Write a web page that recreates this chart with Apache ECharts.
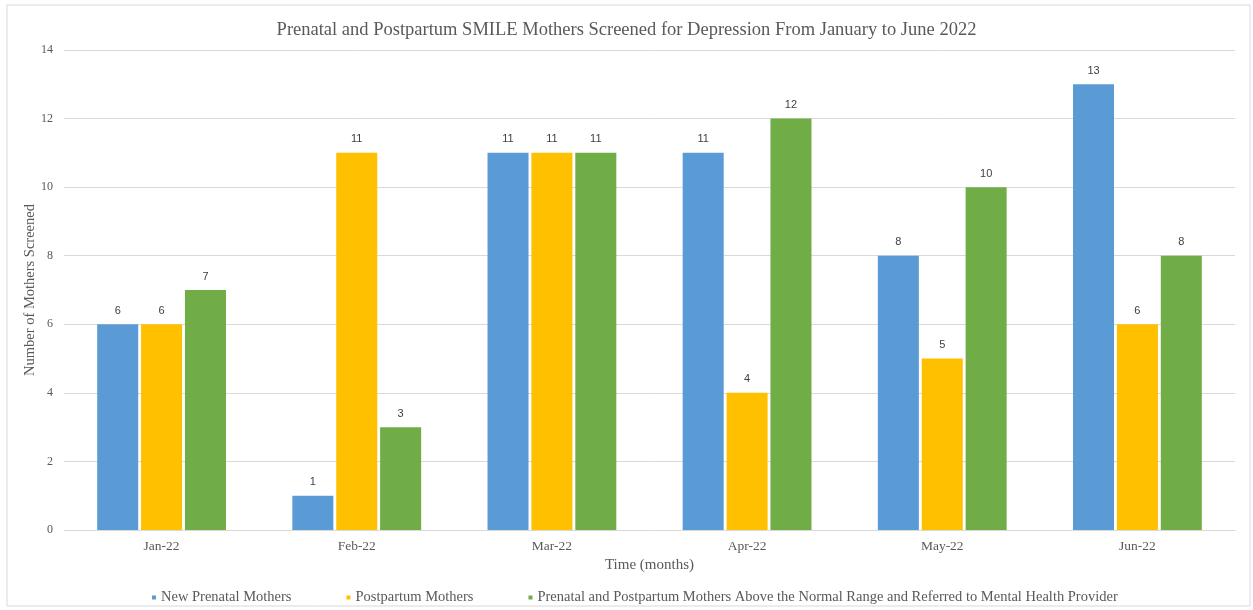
<!DOCTYPE html>
<html><head><meta charset="utf-8">
<script src="https://cdn.jsdelivr.net/npm/echarts@6/dist/echarts.min.js"></script>
<style>html,body{margin:0;padding:0;background:#fff}#c{width:1253px;height:610px}</style>
</head><body><div id="c"></div>
<script>
const categories = ['Jan-22','Feb-22','Mar-22','Apr-22','May-22','Jun-22'];
const seriesNames = ['New Prenatal Mothers','Postpartum Mothers','Prenatal and Postpartum Mothers Above the Normal Range and Referred to Mental Health Provider'];
const newPrenatal = [6,1,11,11,8,13];
const postpartum = [6,11,11,4,5,6];
const referred = [7,3,11,12,10,8];
const yAxisTitle = 'Number of Mothers Screened';
const colors = ['#5B9BD5','#FFC000','#70AD47'];
const serif = '"Liberation Serif","Times New Roman",serif';
const chart = echarts.init(document.getElementById('c'));
const mk = (name, data, color) => ({
  name, type:'bar', data, barGap:'7%', barCategoryGap:'34%',
  itemStyle:{color},
  label:{show:true, position:'top', distance:8, color:'#404040', fontSize:11, fontFamily:'"Liberation Sans",Arial,sans-serif'}
});
chart.setOption({
  animation:false,
  graphic:[
    {type:'rect', shape:{x:7,y:5,width:1243,height:601}, style:{fill:'none', stroke:'#d9d9d9', lineWidth:1}},
    {type:'text', x:30, y:290, rotation:Math.PI/2,
      style:{text:yAxisTitle, align:'center', verticalAlign:'middle', fill:'#595959', font:'14.5px "Liberation Serif", serif'}}
  ],
  title:{text:'Prenatal and Postpartum SMILE Mothers Screened for Depression From January to June 2022',
    left:'center', top:16, textStyle:{fontFamily:serif, fontSize:18.5, fontWeight:'normal', color:'#595959'}},
  grid:{left:64, right:18, top:50, bottom:80},
  legend:{bottom:0, left:147, itemWidth:4, itemHeight:4, icon:'rect', itemGap:55,
    textStyle:{fontFamily:serif, fontSize:14.5, color:'#595959'}, data:seriesNames},
  xAxis:{type:'category', data:categories, name:'Time (months)', nameLocation:'middle', nameGap:26,
    nameTextStyle:{fontFamily:serif, fontSize:15, color:'#595959'},
    axisLine:{lineStyle:{color:'#d9d9d9'}}, axisTick:{show:false},
    axisLabel:{fontFamily:serif, fontSize:13.5, color:'#595959', margin:9}},
  yAxis:{type:'value', min:0, max:14, interval:2,
    axisLine:{show:false}, axisTick:{show:false},
    splitLine:{lineStyle:{color:'#d9d9d9'}},
    axisLabel:{fontFamily:serif, fontSize:12, color:'#595959', margin:11}},
  series:[mk(seriesNames[0],newPrenatal,colors[0]), mk(seriesNames[1],postpartum,colors[1]), mk(seriesNames[2],referred,colors[2])]
});
</script></body></html>
